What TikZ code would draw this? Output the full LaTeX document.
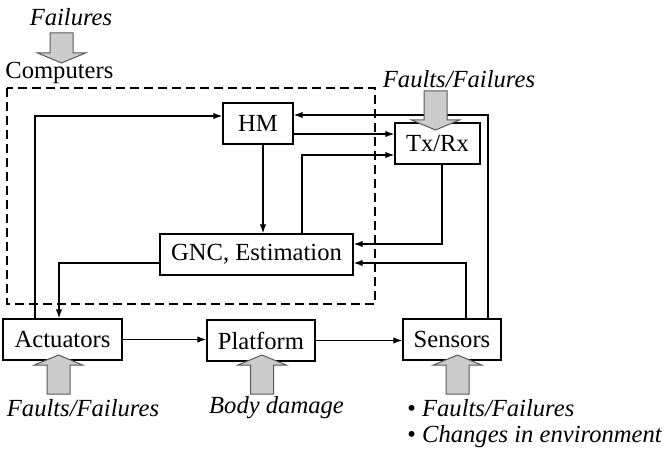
\documentclass[tikz,border=0pt]{standalone}
\usepackage{fontspec}
\setmainfont{Liberation Serif}
\usetikzlibrary{arrows.meta, calc}

\tikzset{
  blk/.style={draw, line width=0.7pt, minimum height=20.5pt, inner sep=0pt, font=\fontsize{12.3}{14}\selectfont},
  link/.style={->, line width=0.6pt},
  tag/.style={inner sep=0pt, font=\fontsize{12.3}{14}\selectfont\itshape},
  compbox/.style={line width=0.7pt, dash pattern=on 4.5pt off 2.5pt},
  fault/.style={draw=black!65, line width=0.5pt, fill=gray!40},
  pics/fault arrow/.style={code={
    \draw[fault] (0,0) -- (24,10) -- (11.5,10) -- (11.5,#1) -- (-11.5,#1) -- (-11.5,10) -- (-24,10) -- cycle;
  }}
}

\begin{document}
\begin{tikzpicture}[x=0.5pt, y=-0.5pt, >={Latex[length=4.5pt,width=3.2pt]}]
    \useasboundingbox (0,0) rectangle (664,454);

    % Computers region
    \draw[compbox] (7,88) rectangle (375,304);
    \node[anchor=west, inner sep=0pt, font=\fontsize{12.3}{14}\selectfont] (comp) at (5,73) {Computers};
    \node[tag] (fail) at (71,17) {Failures};

    % Blocks
    \node[blk, minimum width=35pt] (hm) at (258,123.5) {HM};
    \node[blk, minimum width=42.5pt] (tx) at (437.5,143.5) {Tx/Rx};
    \node[blk, minimum width=96.5pt] (gnc) at (256.5,254.5) {GNC, Estimation};
    \node[blk, minimum width=59.5pt] (act) at (62.5,339.5) {Actuators};
    \node[blk, minimum width=54pt] (plat) at (261,340.5) {Platform};
    \node[blk, minimum width=49pt] (sens) at (452,339.5) {Sensors};

    % Signal flow
    \draw[link] ([xshift=-13.75pt]act.north) |- ([yshift=3.75pt]hm.west);
    \draw[link] ([xshift=18pt]sens.north) |- ([yshift=4.25pt]hm.east);
    \draw[link] ([yshift=-5.25pt]hm.east) -- ([yshift=-5.25pt]hm.east -| tx.west);
    \draw[link] ([xshift=22.75pt]gnc.north) |- ([yshift=-5.75pt]tx.west);
    \draw[link] ([xshift=2.5pt]hm.south) -- ([xshift=2.5pt]hm.south |- gnc.north);
    \draw[link] ([xshift=2.25pt]tx.south) |- ([yshift=5.25pt]gnc.east);
    \draw[link] ([xshift=7pt]sens.north) |- ([yshift=-4.25pt]gnc.east);
    \draw[link] ([yshift=-4.25pt]gnc.west) -| ([xshift=-1.75pt]act.north);
    \draw[link] (act.east) -- (act.east -| plat.west);
    \draw[link] (plat.east) -- (plat.east -| sens.west);

    % Fault inputs
    \pic[rotate=180] at (61.5,63) {fault arrow=30};
    \pic[rotate=180] at (435.5,130) {fault arrow=39};
    \node[tag] (txfail) at (459,79) {Faults/Failures};

    \pic at (58.5,355) {fault arrow=39};
    \pic at (262,355) {fault arrow=39};
    \pic at (457.5,355) {fault arrow=39};

    \node[tag] (actfail) at (83,408) {Faults/Failures};
    \node[tag] (damage) at (276.5,408) {Body damage};
    \node[tag, anchor=west] (sensfail) at (407,408) {\textup{\textbullet}\ Faults/Failures};
    \node[tag, anchor=west] (envir) at (407,437) {\textup{\textbullet}\ Changes in environment};
\end{tikzpicture}
\end{document}
